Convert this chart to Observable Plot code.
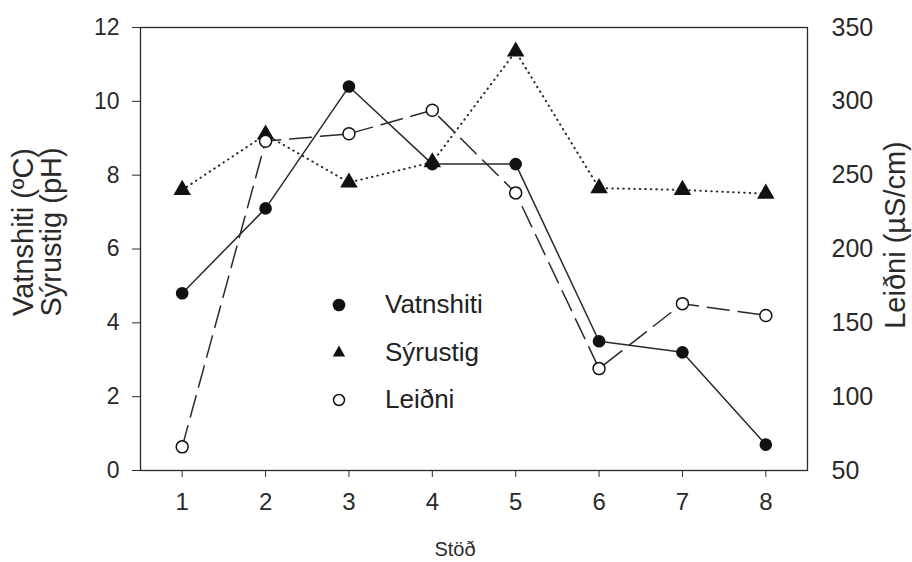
<!DOCTYPE html>
<html>
<head>
<meta charset="utf-8">
<script src="https://cdn.jsdelivr.net/npm/d3@7"></script>
<script src="https://cdn.jsdelivr.net/npm/@observablehq/plot@0.6"></script>
<style>
  html, body { margin: 0; padding: 0; background: #fff; }
  #chart { position: relative; width: 912px; height: 562px; }
  #legend { position: absolute; left: 325px; top: 281px; font-family: "Liberation Sans", Arial, sans-serif; font-size: 26px; color: #222; }
  #legend .row { display: flex; align-items: center; height: 47.5px; }
  #legend svg { width: 28px; height: 20px; margin-right: 32px; }
</style>
</head>
<body>
<div id="chart"></div>
<script>
const stations = [1, 2, 3, 4, 5, 6, 7, 8];
const vatnshiti = [4.8, 7.1, 10.4, 8.3, 8.3, 3.5, 3.2, 0.7];
const syrustig = [7.6, 9.1, 7.8, 8.35, 11.35, 7.65, 7.6, 7.5];
const leidni = [66, 273, 278, 294, 238, 119, 163, 155];
const leftTicks = [0, 2, 4, 6, 8, 10, 12];
const rightTicks = [50, 100, 150, 200, 250, 300, 350];
const seriesNames = ["Vatnshiti", "Sýrustig", "Leiðni"];

// right axis (Leiðni 50..350) mapped onto the left scale (0..12)
const toLeft = v => (v - 50) / 25;
const fromLeft = v => 50 + v * 25;

const dataV = stations.map((s, i) => ({s, v: vatnshiti[i]}));
const dataS = stations.map((s, i) => ({s, v: syrustig[i]}));
const dataL = stations.map((s, i) => ({s, v: toLeft(leidni[i])}));

const ink = "#2a2a2a";
const font = "'Liberation Sans', Arial, sans-serif";

const plot = Plot.plot({
  width: 912,
  height: 562,
  marginLeft: 140,
  marginRight: 105,
  marginTop: 27,
  marginBottom: 92,
  style: {fontFamily: font, fontSize: "23px", color: ink, background: "#fff"},
  x: {domain: [0.5, 8.5]},
  y: {domain: [0, 12]},
  marks: [
    Plot.frame({stroke: ink, strokeWidth: 1.3}),
    Plot.axisY(leftTicks, {anchor: "left", tickSize: 8, tickPadding: 13, label: null, stroke: ink, fill: ink, fontSize: 23}),
    Plot.axisY(rightTicks.map(toLeft), {anchor: "right", tickSize: 0, tickPadding: 24, tickFormat: fromLeft, label: null, fill: ink, fontSize: 25}),
    Plot.axisX(stations, {anchor: "bottom", tickSize: 7, tickPadding: 15, label: null, stroke: ink, fill: ink, fontSize: 24}),
    Plot.line(dataS, {x: "s", y: "v", stroke: ink, strokeWidth: 2, strokeDasharray: "0.5,5", strokeLinecap: "round"}),
    Plot.line(dataL, {x: "s", y: "v", stroke: ink, strokeWidth: 1.5, strokeDasharray: "22,9"}),
    Plot.line(dataV, {x: "s", y: "v", stroke: ink, strokeWidth: 1.5}),
    Plot.dot(dataS, {x: "s", y: "v", symbol: "triangle", r: 6.5, fill: "#111", stroke: "none"}),
    Plot.dot(dataV, {x: "s", y: "v", symbol: "circle", r: 6.3, fill: "#111", stroke: "none"}),
    Plot.dot(dataL, {x: "s", y: "v", symbol: "circle", r: 6, fill: "#fff", stroke: "#111", strokeWidth: 1.5})
  ]
});

const svg = d3.select(plot);
function vText(x, y, s, size) {
  svg.append("text")
    .attr("transform", `translate(${x},${y}) rotate(-90)`)
    .attr("text-anchor", "middle")
    .attr("font-family", font).attr("font-size", size).attr("fill", ink)
    .text(s);
}
vText(33, 232, "Vatnshiti (ºC)", 29);
vText(61, 232, "Sýrustig (pH)", 29);
vText(905, 235, "Leiðni (µS/cm)", 29);
svg.append("text")
  .attr("x", 455).attr("y", 556)
  .attr("text-anchor", "middle")
  .attr("font-family", font).attr("font-size", 20).attr("fill", ink)
  .text("Stöð");

const chart = document.getElementById("chart");
chart.appendChild(plot);

// legend overlay
const legend = document.createElement("div");
legend.id = "legend";
const symbols = [
  '<svg viewBox="-14 -10 28 20"><circle r="6.3" fill="#111"/></svg>',
  '<svg viewBox="-14 -10 28 20"><path d="M0,-6.5L6.2,4.5L-6.2,4.5Z" fill="#111"/></svg>',
  '<svg viewBox="-14 -10 28 20"><circle r="5.5" fill="#fff" stroke="#111" stroke-width="1.5"/></svg>'
];
seriesNames.forEach((name, i) => {
  const row = document.createElement("div");
  row.className = "row";
  row.innerHTML = symbols[i] + "<span>" + name + "</span>";
  legend.appendChild(row);
});
chart.appendChild(legend);
</script>
</body>
</html>
